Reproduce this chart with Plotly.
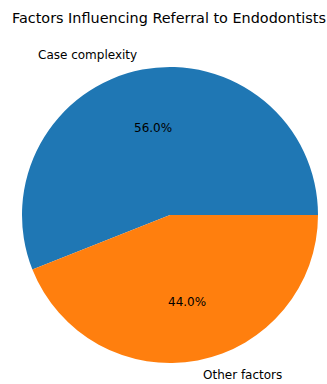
import math
import plotly.graph_objects as go

labels = ["Case complexity", "Other factors"]
values = [56, 44]
colors = ["#1f77b4", "#ff7f0e"]
title = "Factors Influencing Referral to Endodontists"

W, H = 327, 384
cx, cy, r = 170, 215, 148  # pie centre / radius in pixels

total = sum(values)
# matplotlib-style: first wedge starts at 3 o'clock, counter-clockwise.
# plotly's counterclockwise mode anchors the first slice's clockwise edge at `rotation`.
rot = 90 - 360 * values[0] / total

fig = go.Figure(go.Pie(
    labels=labels, values=values, sort=False,
    direction="counterclockwise", rotation=rot,
    marker=dict(colors=colors, line=dict(width=0)),
    textinfo="none", hoverinfo="label+percent",
    domain=dict(x=[(cx - r) / W, (cx + r) / W], y=[(H - cy - r) / H, (H - cy + r) / H]),
    showlegend=False,
))

annotations = []
start = 0.0
for lab, v in zip(labels, values):
    frac = v / total
    mid = math.radians((start + frac / 2) * 360)
    start += frac
    c, s = math.cos(mid), math.sin(mid)
    lx, ly = cx + 1.1 * r * c, cy - 1.1 * r * s
    annotations.append(dict(
        x=lx / W, y=1 - ly / H, xref="paper", yref="paper",
        text=lab, showarrow=False,
        xanchor="right" if c < 0 else "left", yanchor="middle",
        font=dict(family="DejaVu Sans", size=12, color="#000"),
    ))
    px, py = cx + 0.6 * r * c, cy - 0.6 * r * s
    annotations.append(dict(
        x=px / W, y=1 - py / H, xref="paper", yref="paper",
        text=f"{frac * 100:.1f}%", showarrow=False,
        xanchor="center", yanchor="middle",
        font=dict(family="DejaVu Sans", size=12, color="#000"),
    ))

annotations.append(dict(
    x=169 / W, y=1 - 18 / H, xref="paper", yref="paper",
    text=title, showarrow=False, xanchor="center", yanchor="middle",
    font=dict(family="DejaVu Sans", size=14.4, color="#000"),
))

fig.update_layout(
    width=W, height=H, margin=dict(l=0, r=0, t=0, b=0),
    paper_bgcolor="white", plot_bgcolor="white",
    annotations=annotations,
)
fig.write_html("out.html")
